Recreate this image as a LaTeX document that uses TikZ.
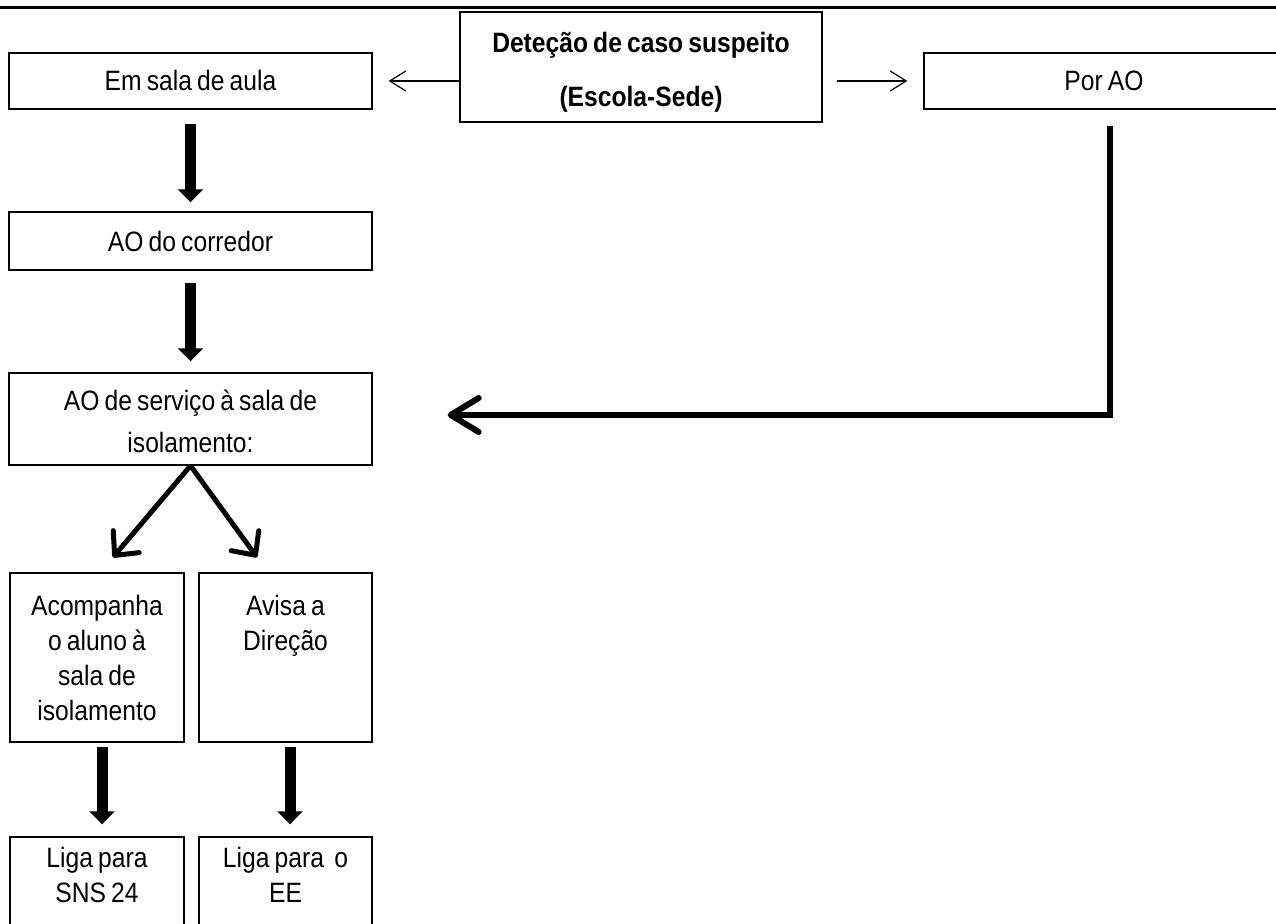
\documentclass[tikz,border=0pt]{standalone}
\usepackage{fontspec}
\setmainfont{Liberation Sans}[FakeStretch=0.88,WordSpace=0.75]
\usetikzlibrary{arrows.meta}

\begin{document}
\begin{tikzpicture}[x=0.5pt, y=-0.5pt,
  box/.style={draw, line width=0.7pt, inner sep=0pt, align=center,
    font=\fontsize{14pt}{17.5pt}\selectfont},
  bigarrow/.style={line width=5.5pt, -{Triangle[length=6.5pt,width=12.5pt]}},
  thinarrow/.style={line width=0.6pt, -{Straight Barb[length=8pt,width=10pt]}},
  bentarrow/.style={line width=3pt, -{Straight Barb[length=14pt,width=17pt,round]}},
  splitarrow/.style={line width=2.5pt, -{Straight Barb[length=9pt,width=17pt,round]}}]

\useasboundingbox (0,0) rectangle (1276,924);
\clip (0,0) rectangle (1276,924);

% top rule
\draw[line width=1.2pt] (0,7.5) -- (1276,7.5);

% first row
  \node[box, minimum width=181pt, minimum height=55pt,
    font=\bfseries\fontsize{14pt}{27pt}\selectfont] (deteccao) at (641,67)
{\rule{0pt}{15pt}Deteção de caso suspeito\\(Escola-Sede)};
  \node[box, minimum width=181.5pt, minimum height=28pt] (sala) at (190.5,81)
{Em sala de aula};
  \node[box, minimum width=180pt, minimum height=28pt] (porao) at (1104,81)
{Por AO};

% left column
  \node[box, minimum width=181.5pt, minimum height=29pt] (corredor) at (190.5,241)
{AO do corredor};
  \node[box, minimum width=181.5pt, minimum height=46pt,
    font=\fontsize{14pt}{21pt}\selectfont] (servico) at (190.5,419)
{\rule{0pt}{13pt}AO de serviço à sala de\\isolamento:};
  \node[box, minimum width=87pt, minimum height=84.5pt] (acomp) at (97,657.5)
{Acompanha\\o aluno à\\sala de\\isolamento};
  \node[box, minimum width=86.5pt, minimum height=84.5pt] (avisa) at (285.5,657.5)
{Avisa a\\Direção\\[17.5pt]};
  \node[box, minimum width=87pt, minimum height=90pt] (ligasns) at (97,927)
{Liga para\\SNS 24\\[35pt]};
  \node[box, minimum width=86.5pt, minimum height=90pt] (ligaee) at (285.5,927)
{Liga para~ o\\EE\\[35pt]};

% the links
  \draw[thinarrow, shorten >=8pt] (deteccao.west |- sala.east) -- (sala.east);
  \draw[thinarrow, shorten <=7pt, shorten >=8pt] (deteccao.east |- porao.west) -- (porao.west);
  \draw[bigarrow, shorten <=7pt, shorten >=4.5pt] (sala) -- (corredor);
  \draw[bigarrow, shorten <=6pt, shorten >=5.5pt] (corredor) -- (servico);
  \draw[bentarrow] ([xshift=3pt,yshift=-8pt]porao.south) |- ([xshift=37.5pt,yshift=2pt]servico.east);
  \draw[splitarrow] (servico.south) -- ([xshift=8pt,yshift=7.5pt]acomp.north);
  \draw[splitarrow] (servico.south) -- ([xshift=-14.25pt,yshift=7.5pt]avisa.north);
  \draw[bigarrow, shorten <=2pt, shorten >=6pt] ([xshift=2.5pt]acomp.south) -- ([xshift=2.5pt]ligasns.north);
  \draw[bigarrow, shorten <=2pt, shorten >=6pt] ([xshift=2.25pt]avisa.south) -- ([xshift=2.25pt]ligaee.north);

\end{tikzpicture}
\end{document}
